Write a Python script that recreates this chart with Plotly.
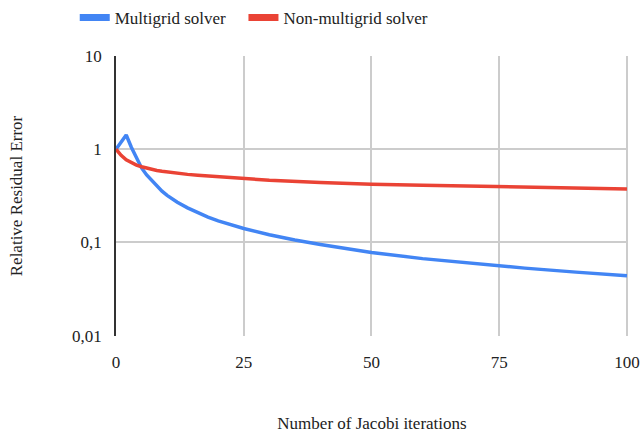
import plotly.graph_objects as go

# Relative residual error vs. Jacobi iterations
iters_mg = [0, 1, 2, 3, 4, 5, 6, 7, 8, 9, 10, 12, 14, 16, 18, 20, 25, 30, 35, 40, 45, 50, 60, 70, 75, 80, 90, 100]
err_mg = [1.0, 1.19, 1.42, 1.05, 0.80, 0.63, 0.53, 0.46, 0.40, 0.355, 0.32, 0.27, 0.235, 0.208, 0.187,
          0.17, 0.141, 0.121, 0.106, 0.095, 0.086, 0.078, 0.067, 0.059, 0.056, 0.053, 0.048, 0.044]

iters_plain = [0, 1, 2, 3, 4, 5, 6, 7, 8, 9, 10, 12, 14, 16, 18, 20, 25, 30, 40, 50, 60, 75, 90, 100]
err_plain = [1.0, 0.86, 0.77, 0.715, 0.675, 0.648, 0.626, 0.607, 0.592, 0.579, 0.568, 0.55, 0.537,
             0.526, 0.517, 0.508, 0.48, 0.464, 0.44, 0.42, 0.41, 0.398, 0.385, 0.375]

x_ticks = [0, 25, 50, 75, 100]
y_ticks = [0.01, 0.1, 1, 10]
y_tick_text = ["0,01", "0,1", "1", "10"]

series_names = ["Multigrid solver", "Non-multigrid solver"]
BLUE = "#4285F4"
RED = "#EA4335"
FAMILY = "Liberation Serif"
TEXT = "#222222"
GAP = "\u00a0" * 3  # extra room between legend entries


def font(size=17):
    return dict(family=FAMILY, size=size, color=TEXT)


fig = go.Figure()
fig.add_trace(go.Scatter(x=iters_mg, y=err_mg, mode="lines", line=dict(color=BLUE, width=3.5),
                         showlegend=False))
fig.add_trace(go.Scatter(x=iters_plain, y=err_plain, mode="lines", line=dict(color=RED, width=3.5),
                         showlegend=False))
# legend swatches
for i, (name, col) in enumerate(zip(series_names, [BLUE, RED])):
    label = name + GAP if i == 0 else name
    fig.add_trace(go.Scatter(x=[None], y=[None], mode="lines", name=label,
                             line=dict(color=col, width=7)))

fig.update_layout(
    width=644, height=435,
    margin=dict(l=116, r=16, t=56, b=99),
    paper_bgcolor="white", plot_bgcolor="white",
    font=font(),
    separators=",.",
    legend=dict(orientation="h", x=0.27, xanchor="center",
                yref="container", y=1.0, yanchor="top",
                font=font(), tracegroupgap=0),
    xaxis=dict(range=[0, 100.2], tickvals=x_ticks, showgrid=True, gridcolor="#cccccc", gridwidth=1.5,
               zeroline=False, showline=False, ticks="", tickfont=font(), automargin=False,
               ticklabelstandoff=14,
               title=dict(text="Number of Jacobi iterations", font=font(), standoff=46)),
    yaxis=dict(type="log", range=[-2.004, 1], tickvals=y_ticks, ticktext=y_tick_text, showgrid=True,
               gridcolor="#cccccc", gridwidth=1.5, zeroline=False, showline=True, linecolor="#333333",
               linewidth=1.5, ticks="", tickfont=font(), ticklabelstandoff=9, automargin=False,
               title=dict(text="Relative Residual Error", font=font(), standoff=45)),
)

fig.write_html("out.html")
